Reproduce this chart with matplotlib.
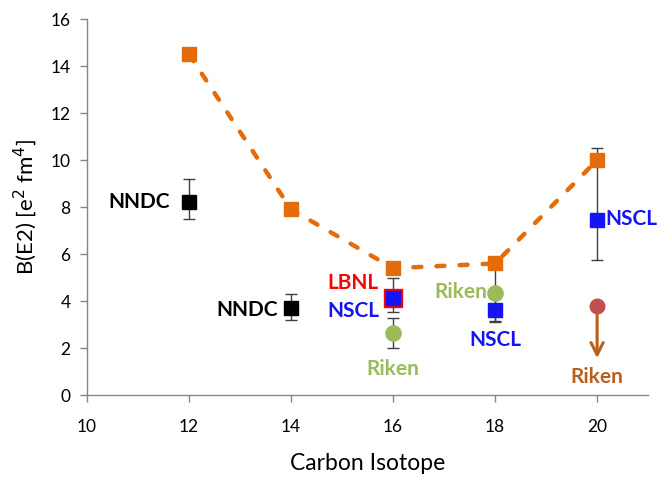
import matplotlib
matplotlib.use("Agg")
import matplotlib.pyplot as plt

plt.rcParams['font.family'] = ['Lato', 'DejaVu Sans']

# Theory curve (orange dashed)
theory_x = [12, 14, 16, 18, 20]
theory_y = [14.5, 7.9, 5.4, 5.6, 10.0]

# NNDC evaluated values
nndc_x = [12, 14]
nndc_y = [8.2, 3.7]
nndc_lo = [0.7, 0.5]
nndc_hi = [1.0, 0.6]

# LBNL
lbnl_x = [16]
lbnl_y = [4.15]

# NSCL measurements
nscl_x = [16, 18, 20]
nscl_y = [4.15, 3.64, 7.45]
nscl_lo = [0.62, 0.5, 1.7]
nscl_hi = [0.82, 0.5, 3.05]

# Riken measurements
riken_x = [16, 18]
riken_y = [2.64, 4.33]
riken_lo = [0.64, 1.2]
riken_hi = [0.64, 1.2]

# Riken upper limit for 20C
riken_lim_x = 20
riken_lim_y = 3.8
riken_lim_to = 1.45

ORANGE = '#E46C0A'
BLUE = '#1414F5'
GREEN = '#9BBB59'
RED = '#FF0000'
BROWN = '#BA5F1C'
LIMIT_RED = '#C0504D'
ERR = '#404040'

fig = plt.figure(figsize=(6.6, 4.8), dpi=100)
ax = fig.add_axes([0.132, 0.177, 0.85, 0.783])
ax.set_xlim(10, 21)
ax.set_ylim(0, 16)

ax.plot(theory_x, theory_y, color=ORANGE, lw=3.2, linestyle=(0, (1.8, 3.4)),
        dash_capstyle='round', zorder=2)

ekw = dict(fmt='none', ecolor=ERR, elinewidth=1.0, capsize=4, capthick=1.0, zorder=1)
ax.errorbar(nndc_x, nndc_y, yerr=[nndc_lo, nndc_hi], **ekw)
ax.errorbar(nscl_x, nscl_y, yerr=[nscl_lo, nscl_hi], **ekw)
ax.errorbar(riken_x, riken_y, yerr=[riken_lo, riken_hi], **ekw)

ax.plot(theory_x, theory_y, 's', color=ORANGE, ms=10, zorder=4, linestyle='none')
ax.plot(nndc_x, nndc_y, 's', color='black', ms=9.5, zorder=4)
ax.plot(lbnl_x, lbnl_y, 's', color=RED, ms=12.5, zorder=4)
ax.plot(nscl_x, nscl_y, 's', color=BLUE, ms=9.5, zorder=5)
ax.plot(riken_x, riken_y, 'o', color=GREEN, ms=11, zorder=5)

ax.annotate('', xy=(riken_lim_x, riken_lim_to), xytext=(riken_lim_x, riken_lim_y),
            arrowprops=dict(arrowstyle='->', color=BROWN, lw=2.2,
                            mutation_scale=22), zorder=3)
ax.plot([riken_lim_x], [riken_lim_y], 'o', color=LIMIT_RED, ms=10.5, zorder=5)

tkw = dict(fontsize=15, fontweight='bold', va='center')
ax.text(11.62, 8.22, 'NNDC', color='black', ha='right', **tkw)
ax.text(13.75, 3.6, 'NNDC', color='black', ha='right', **tkw)
ax.text(15.72, 4.75, 'LBNL', color=RED, ha='right', **tkw)
ax.text(15.74, 3.57, 'NSCL', color=BLUE, ha='right', **tkw)
ax.text(16.0, 1.12, 'Riken', color=GREEN, ha='center', **tkw)
ax.text(17.85, 4.4, 'Riken', color=GREEN, ha='right', **tkw)
ax.text(18.0, 2.35, 'NSCL', color=BLUE, ha='center', **tkw)
ax.text(20.17, 7.5, 'NSCL', color=BLUE, ha='left', **tkw)
ax.text(20.0, 0.75, 'Riken', color=BROWN, ha='center', **tkw)

for s in ['top', 'right']:
    ax.spines[s].set_visible(False)
for s in ['left', 'bottom']:
    ax.spines[s].set_color('#868686')
    ax.spines[s].set_linewidth(1.0)
ax.set_xticks(range(10, 21, 2))
ax.set_yticks(range(0, 17, 2))
ax.tick_params(axis='both', colors='#868686', labelcolor='black', labelsize=12.5,
               length=5, width=1.0, direction='out')
ax.tick_params(axis='x', pad=12)
ax.tick_params(axis='y', pad=7)
ax.set_xlabel('Carbon Isotope', fontsize=16.5, labelpad=13)
ax.set_ylabel('B(E2) [e$^{2}$ fm$^{4}$]', fontsize=16, labelpad=8)

fig.savefig('out.png', dpi=100)
